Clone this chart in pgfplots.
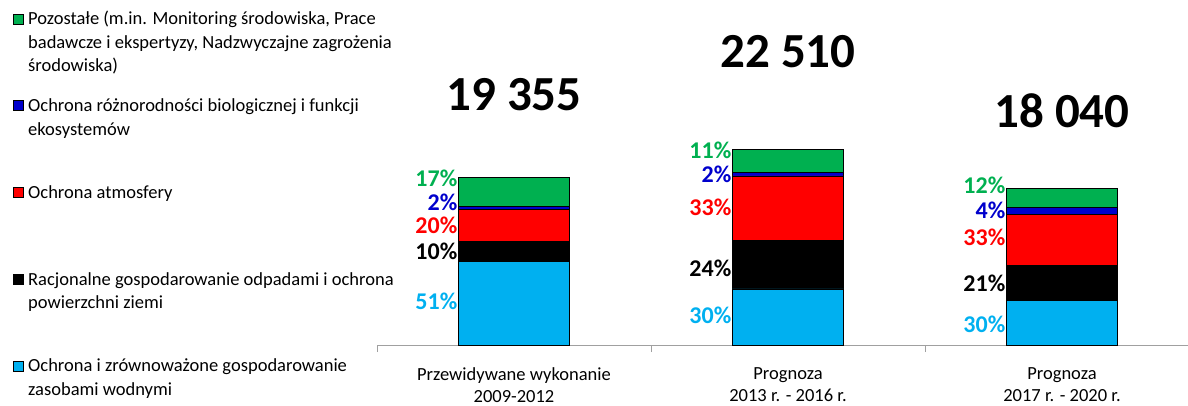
\documentclass[border=0pt]{standalone}
\usepackage{pgfplots}
\usepackage{pgfplotstable}
\pgfplotsset{compat=1.18}
\usepackage{fontspec}
\setmainfont{Carlito}
\definecolor{cgreen}{RGB}{0,176,80}
\definecolor{cblue}{RGB}{0,0,204}
\definecolor{cred}{RGB}{255,0,0}
\definecolor{ccyan}{RGB}{0,176,240}
\definecolor{cgray}{RGB}{160,160,160}
\pgfplotstableread{
x water waste atmos bio other
0 9600 2303 3716 310 3426
1 6460 5583 7428 383 2656
2 5177 3987 5899 812 2165
}\data
\newcommand{\pl}[4]{\node[anchor=east,text=#4,font=\fontsize{24}{24}\selectfont\bfseries,inner sep=1pt] at (axis cs:#1,#2) {#3};}
\newcommand{\legentry}[3]{%
  \draw[fill=#2,draw=black,line width=0.6pt] (13pt,{405pt-19pt-86.7pt*#1-5pt}) rectangle (23pt,{405pt-19pt-86.7pt*#1+5pt});
  \node[anchor=base west,inner sep=0pt] at (28pt,{405pt-25pt-86.7pt*#1}) {\parbox[t]{400pt}{\raggedright\fontsize{18.5}{23.5}\selectfont #3}};}
\begin{document}
\begin{tikzpicture}
\useasboundingbox (0,0) rectangle (1188pt,405pt);
\begin{axis}[
  at={(377pt,60pt)}, anchor=south west,
  scale only axis, width=811pt, height=345pt,
  xmin=-0.5, xmax=2.46, ymin=0, ymax=39747,
  ybar stacked, bar width=111pt,
  axis x line*=bottom, axis y line=none,
  axis line style={cgray,line width=0.8pt},
  xtick={0,1,2},
  xticklabels={{Przewidywane wykonanie\\2009-2012},{Prognoza\\2013 r. - 2016 r.},{Prognoza\\2017 r. - 2020 r.}},
  xticklabel style={align=center,font=\fontsize{18.5}{21.5}\selectfont,yshift=-19.5pt},
  major tick length=0pt,
  minor xtick={-0.5,0.5,1.5},
  minor tick length=7pt, tick align=outside,
  minor tick style={cgray,line width=0.8pt},
  clip=false,
]
\addplot[fill=ccyan,draw=black,line width=0.6pt] table[x=x,y=water]{\data};
\addplot[fill=black,draw=black,line width=0.6pt] table[x=x,y=waste]{\data};
\addplot[fill=cred,draw=black,line width=0.6pt] table[x=x,y=atmos]{\data};
\addplot[fill=cblue,draw=black,line width=0.6pt] table[x=x,y=bio]{\data};
\addplot[fill=cgreen,draw=black,line width=0.6pt] table[x=x,y=other]{\data};
\pl{-0.2025}{19240}{17\%}{cgreen}
\pl{-0.2025}{16475}{2\%}{cblue}
\pl{-0.2025}{13825}{20\%}{cred}
\pl{-0.2025}{10830}{10\%}{black}
\pl{-0.2025}{5070}{51\%}{ccyan}
\pl{0.7975}{22465}{11\%}{cgreen}
\pl{0.7975}{19700}{2\%}{cblue}
\pl{0.7975}{15900}{33\%}{cred}
\pl{0.7975}{8870}{24\%}{black}
\pl{0.7975}{3456}{30\%}{ccyan}
\pl{1.7975}{18433}{12\%}{cgreen}
\pl{1.7975}{15553}{4\%}{cblue}
\pl{1.7975}{12442}{33\%}{cred}
\pl{1.7975}{7143}{21\%}{black}
\pl{1.7975}{2419}{30\%}{ccyan}
\node[font=\fontsize{49}{49}\selectfont\bfseries] at (axis cs:0,28802) {19 355};
\node[font=\fontsize{49}{49}\selectfont\bfseries] at (axis cs:1,33756) {22 510};
\node[font=\fontsize{49}{49}\selectfont\bfseries] at (axis cs:2,26958) {18 040};
\end{axis}
\legentry{0}{cgreen}{Pozostałe (m.in. Monitoring środowiska, Prace\\badawcze i ekspertyzy, Nadzwyczajne zagrożenia\\środowiska)}
\legentry{1}{cblue}{Ochrona różnorodności biologicznej i funkcji\\ekosystemów}
\legentry{2}{cred}{Ochrona atmosfery}
\legentry{3}{black}{Racjonalne gospodarowanie odpadami i ochrona\\powierzchni ziemi}
\legentry{4}{ccyan}{Ochrona i zrównoważone gospodarowanie\\zasobami wodnymi}
\end{tikzpicture}
\end{document}
